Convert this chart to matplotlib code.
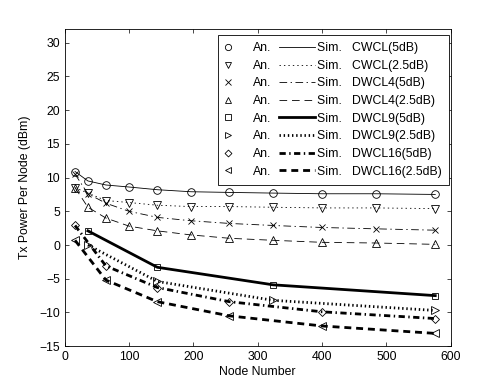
import matplotlib
matplotlib.use('Agg')
import matplotlib.pyplot as plt
from matplotlib.legend_handler import HandlerLine2D
from matplotlib.lines import Line2D

plt.rcParams['font.family'] = ['Liberation Sans', 'DejaVu Sans']
plt.rcParams['font.size'] = 8.8
plt.rcParams['lines.scale_dashes'] = False

# node numbers (x) for each scheme
nodes_all = [16, 36, 64, 100, 144, 196, 256, 324, 400, 484, 576]
nodes_9 = [36, 144, 324, 576]
nodes_16 = [16, 64, 144, 256, 400, 576]

# Tx power per node (dBm)
cwcl_5 = [10.9, 9.5, 8.9, 8.6, 8.2, 7.9, 7.8, 7.7, 7.6, 7.6, 7.5]
cwcl_25 = [8.5, 7.7, 6.6, 6.3, 5.9, 5.7, 5.7, 5.6, 5.5, 5.5, 5.4]
dwcl4_5 = [10.5, 7.6, 6.2, 5.0, 4.1, 3.6, 3.2, 2.9, 2.6, 2.4, 2.2]
dwcl4_25 = [8.5, 5.6, 4.0, 2.8, 2.1, 1.5, 1.0, 0.7, 0.4, 0.3, 0.1]
dwcl9_5 = [2.1, -3.3, -5.9, -7.5]
dwcl9_25 = [0.0, -5.4, -8.2, -9.7]
dwcl16_5 = [2.9, -3.1, -6.3, -8.4, -9.9, -10.9]
dwcl16_25 = [0.7, -5.2, -8.4, -10.5, -12.0, -13.1]

names = ['CWCL(5dB)', 'CWCL(2.5dB)', 'DWCL4(5dB)', 'DWCL4(2.5dB)',
         'DWCL9(5dB)', 'DWCL9(2.5dB)', 'DWCL16(5dB)', 'DWCL16(2.5dB)']

dotted = (0, (1, 2.2))
dashed = (0, (5.5, 3.5))
dashdot = (0, (5.5, 2.5, 1, 2.5))

series = [
    (nodes_all, cwcl_5, 'o', '-', 0.6, 5.5),
    (nodes_all, cwcl_25, 'v', dotted, 0.6, 6),
    (nodes_all, dwcl4_5, 'x', dashdot, 0.6, 5),
    (nodes_all, dwcl4_25, '^', dashed, 0.6, 6),
    (nodes_9, dwcl9_5, 's', '-', 2.0, 5),
    (nodes_9, dwcl9_25, '>', (0, (1, 2.0)), 2.0, 6),
    (nodes_16, dwcl16_5, 'D', (0, (4.5, 2.5, 1, 2.5)), 2.0, 4.5),
    (nodes_16, dwcl16_25, '<', (0, (5, 3.5)), 2.0, 6),
]


class MarkerLeft(HandlerLine2D):
    def get_xdata(self, legend, xdescent, ydescent, width, height, fontsize):
        x = [-xdescent + 0.15 * fontsize]
        return x, x


class LongLine(HandlerLine2D):
    def get_xdata(self, legend, xdescent, ydescent, width, height, fontsize):
        x = [-xdescent + width - 2.95 * fontsize, -xdescent + width]
        return x, x


fig = plt.figure(figsize=(4.98, 3.89), dpi=100)
ax = fig.add_axes([0.13, 0.11, 0.775, 0.815])

an_handles = []
sim_handles = []
for (x, y, mk, ls, lw, ms), name in zip(series, names):
    ax.plot(x, y, color='k', linestyle=ls, linewidth=lw)
    ax.plot(x, y, color='k', linestyle='none', marker=mk, markersize=ms,
            markerfacecolor='none', markeredgewidth=0.6)
    h1 = Line2D([], [], color='k', linestyle='none', marker=mk, markersize=ms - 1,
                markerfacecolor='none', markeredgewidth=0.6)
    h2 = Line2D([], [], color='k', linestyle=ls, linewidth=lw)
    an_handles.append(h1)
    sim_handles.append(h2)

hmap = {h: MarkerLeft() for h in an_handles}
hmap.update({h: LongLine() for h in sim_handles})

leg = ax.legend(an_handles + sim_handles,
                ['An.'] * 8 + ['Sim.   ' + n for n in names],
                ncol=2, loc='upper right', bbox_to_anchor=(0.9956, 0.982),
                borderaxespad=0, handlelength=2.1, handletextpad=0.15,
                columnspacing=1.45, labelspacing=0.46, borderpad=0.6,
                fancybox=False, framealpha=1, edgecolor='k',
                handler_map=hmap)
leg.get_frame().set_linewidth(0.6)

ax.set_xlim(0, 600)
ax.set_ylim(-15, 32)
ax.set_xticks(range(0, 601, 100))
ax.set_yticks(range(-15, 31, 5))
ax.tick_params(direction='in', top=True, right=True, length=2.8, width=0.5)
for sp in ax.spines.values():
    sp.set_linewidth(0.6)

ax.set_xlabel('Node Number', labelpad=2)
ax.set_ylabel('Tx Power Per Node (dBm)', labelpad=6)

fig.savefig('out.png', dpi=100)
